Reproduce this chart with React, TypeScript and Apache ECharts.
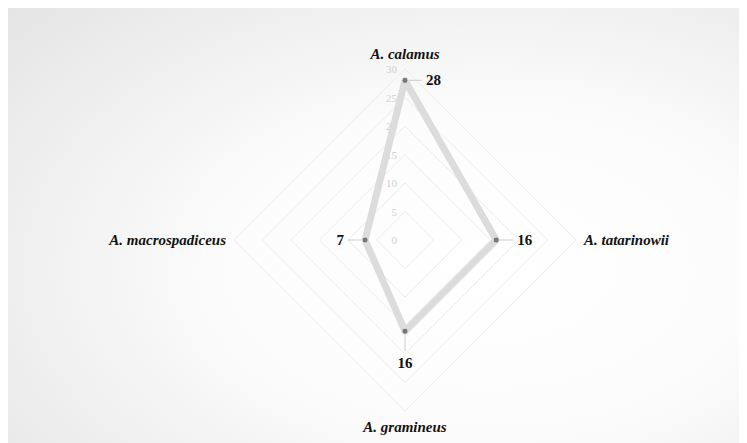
import React, { useEffect, useRef } from "react";
import * as echarts from "echarts";

const indicatorNames = ["A. calamus", "A. macrospadiceus", "A. gramineus", "A. tatarinowii"];
const indicatorMax = 30;
const values = [28, 7, 16, 16];
// label placement per indicator: which side the value label sits on
const labelSides = ["right", "left", "bottom", "right"];

const FONT = "'Liberation Serif', 'Times New Roman', serif";

export default function App() {
  const ref = useRef<HTMLDivElement>(null);
  useEffect(() => {
    if (!ref.current) return;
    const chart = echarts.init(ref.current, null, { renderer: "svg" });

    const sides = ["right", "left", "bottom"];
    const labelSeries = sides.map((side) => {
      const fmt =
        side === "right"
          ? (v: number) => `{l|}{v|${v}}`
          : side === "left"
          ? (v: number) => `{v|${v}}{l|}`
          : (v: number) => `{vl|}\n{v|${v}}`;
      return {
        type: "radar",
        data: [{ value: values }],
        symbol: "circle",
        symbolSize: 6,
        itemStyle: { color: "rgba(0,0,0,0)" },
        lineStyle: { width: 0, color: "rgba(0,0,0,0)" },
        silent: true,
        z: 3,
        label: {
          show: true,
          position: side,
          distance: 1,
          align: side === "bottom" ? "center" : undefined,
          formatter: (p: any) => {
            const d = p.dimensionIndex;
            if (labelSides[d] !== side) return "";
            return fmt(values[d]);
          },
          rich: {
            l: { width: 13, height: 0, borderColor: "#c4c4c4", borderWidth: 0.5 },
            vl: { width: 0, height: 16, borderColor: "#c4c4c4", borderWidth: 0.5, align: "center" },
            v: {
              fontFamily: FONT,
              fontWeight: "bold",
              fontSize: 15,
              color: "#111",
              padding: side === "right" ? [0, 0, 0, 4] : side === "left" ? [0, 4, 0, 0] : [4, 0, 0, 0],
              align: side === "bottom" ? "center" : undefined,
            },
          },
        },
      };
    });

    chart.setOption({
      animation: false,
      backgroundColor: {
        type: "radial",
        x: 0.66,
        y: 0.6,
        r: 0.9,
        colorStops: [
          { offset: 0, color: "#ffffff" },
          { offset: 0.4, color: "#fcfcfc" },
          { offset: 1, color: "#e4e4e4" },
        ],
      },
      textStyle: { fontFamily: FONT },
      radar: {
        center: [397, 232],
        radius: 171,
        shape: "polygon",
        splitNumber: 6,
        nameGap: 8,
        axisName: {
          color: "#111",
          fontFamily: FONT,
          fontSize: 15,
          fontWeight: "bold",
          fontStyle: "italic",
        },
        indicator: indicatorNames.map((name, i) => ({
          name,
          min: 0,
          max: indicatorMax,
          axisLabel: i === 0 ? { show: true } : { show: false },
        })),
        axisLine: { show: false },
        axisTick: { show: false },
        axisLabel: { show: true, color: "#cfcfcf", fontSize: 11, fontFamily: FONT, margin: 8 },
        splitLine: { lineStyle: { color: "#ececec", width: 1 } },
        splitArea: { show: false },
      },
      series: [
        {
          type: "radar",
          z: 2,
          data: [{ value: values }],
          symbol: "circle",
          symbolSize: 6,
          itemStyle: { color: "#777", borderColor: "#e2e2e2", borderWidth: 1 },
          lineStyle: { color: "#dcdcdc", width: 7 },
          label: { show: false },
        },
        ...labelSeries,
      ],
    });
    return () => chart.dispose();
  }, []);
  return <div ref={ref} style={{ width: 731, height: 435 }} />;
}
